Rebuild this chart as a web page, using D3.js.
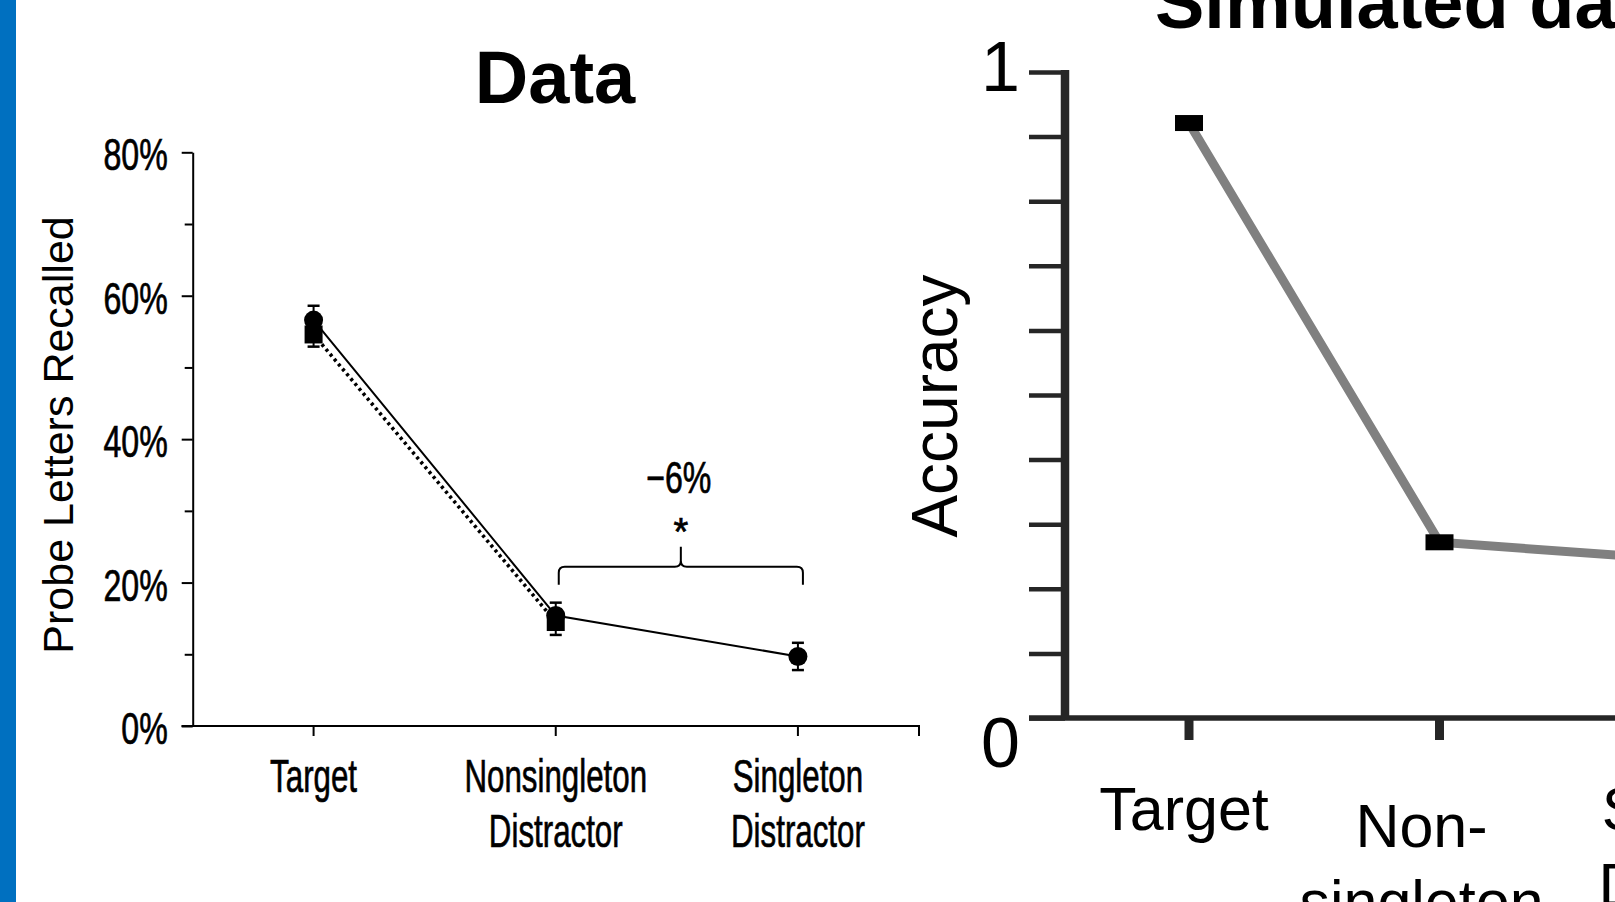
<!DOCTYPE html>
<html>
<head>
<meta charset="utf-8">
<script src="https://cdn.jsdelivr.net/npm/d3@7"></script>
<style>
body{margin:0;background:#fff;}
svg{display:block;}
</style>
</head>
<body>
<svg></svg>
<script>
// ---- data ----
var categories=["Target","Nonsingleton Distractor","Singleton Distractor"]
var catLines=[["Target"],["Nonsingleton","Distractor"],["Singleton","Distractor"]]
var circleMeans=[56.6,15.4,9.7]     // solid line, circles
var circleErr=[2.0,1.8,1.9]
var squareMeans=[54.6,14.5]         // dotted line, squares
var squareErr=[1.7,1.8]
var majorTicks=[0,20,40,60,80]
var minorTicks=[10,30,50,70]
var bracketPct=22.2
var diffLabel="\u22126%"

var simCategories=["Target","Nonsingleton","Singleton"]
var simLines=[["Target"],["Non-","singleton","Distractor"],["Singleton","Distractor"]]
var simValues=[0.921,0.272,0.244]
var simTicks=[0,0.1,0.2,0.3,0.4,0.5,0.6,0.7,0.8,0.9,1]
var simTickLabels=[{v:1,t:"1"},{v:0,t:"0"}]

var width=1615
var height=902
var arial="'Liberation Sans',Arial,Helvetica,sans-serif"

var svg=d3.select("svg")
    .attr("width",width)
    .attr("height",height)

// blue side strip
svg.append("rect")
    .attr("x",0).attr("y",0)
    .attr("width",16).attr("height",height)
    .attr("fill","#0070C0")

// condensed look: arial squeezed sideways, a hair of stroke for weight
var condensed=function(sel,size){
    sel.style("font-family",arial)
        .style("font-size",size+"px")
        .attr("fill","#000")
        .attr("stroke","#000")
        .attr("stroke-width",0.7)
}

// =============== left panel: Data ===============
var drawData=function(){
    var x=d3.scaleBand()
        .domain(categories)
        .range([192.5,919])
    var xc=function(c){return x(c)+x.bandwidth()/2}
    var y=d3.scaleLinear()
        .domain([0,80])
        .range([726,152.3])
    var g=svg.append("g")

    // title
    g.append("text")
        .attr("x",555).attr("y",103)
        .attr("text-anchor","middle")
        .style("font-family",arial)
        .style("font-weight","bold")
        .style("font-size","74px")
        .text("Data")

    // y axis, major ticks
    var yAxis=d3.axisLeft(y)
        .tickValues(majorTicks)
        .tickSize(11)
        .tickSizeOuter(0)
        .tickFormat(function(d){return d+"%"})
    var ya=g.append("g")
        .attr("transform","translate(192.7,0)")
        .call(yAxis)
    ya.select(".domain").attr("stroke","#000").attr("stroke-width",2)
    ya.selectAll(".tick line").attr("stroke","#000").attr("stroke-width",2)
    ya.selectAll(".tick text")
        .attr("x",0).attr("dy","0.4em")
        .attr("transform","translate(-25,0) scale(0.73,1)")
        .call(condensed,44)
    // minor ticks
    var ym=g.append("g")
        .attr("transform","translate(192.7,0)")
        .call(d3.axisLeft(y).tickValues(minorTicks).tickSize(8).tickFormat(""))
    ym.select(".domain").remove()
    ym.selectAll(".tick line").attr("stroke","#000").attr("stroke-width",2)

    // x axis
    var xr=x.range()
    g.append("path")
        .attr("d","M"+(xr[0]-11)+","+y(0)+"H"+xr[1]+"V"+(y(0)+10))
        .attr("fill","none").attr("stroke","#000").attr("stroke-width",2)
    g.selectAll(".xtick")
        .data(categories)
        .enter()
        .append("line")
        .attr("class","xtick")
        .attr("x1",xc).attr("x2",xc)
        .attr("y1",y(0)).attr("y2",y(0)+10)
        .attr("stroke","#000").attr("stroke-width",2)

    // x labels
    var xl=g.selectAll(".xlab")
        .data(categories)
        .enter()
        .append("g")
        .attr("class","xlab")
        .attr("transform",function(c){return "translate("+xc(c)+","+(y(0)+66)+") scale(0.68,1)"})
    xl.selectAll("text")
        .data(function(c,i){return catLines[i]})
        .enter()
        .append("text")
        .attr("y",function(d,i){return i*55})
        .attr("text-anchor","middle")
        .call(condensed,46)
        .text(function(d){return d})

    // y label
    g.append("text")
        .attr("transform","translate(73,435) rotate(-90)")
        .attr("text-anchor","middle")
        .style("font-family",arial)
        .style("font-size","43px")
        .text("Probe Letters Recalled")

    // lines
    var circlePts=circleMeans.map(function(v,i){return [xc(categories[i]),y(v)]})
    var squarePts=squareMeans.map(function(v,i){return [xc(categories[i]),y(v)]})
    g.append("path")
        .attr("d",d3.line()(squarePts))
        .attr("fill","none").attr("stroke","#000")
        .attr("stroke-width",3.6)
        .attr("stroke-dasharray","3,3.4")
    g.append("path")
        .attr("d",d3.line()(circlePts))
        .attr("fill","none").attr("stroke","#000")
        .attr("stroke-width",2)

    // error bars
    var errData=[]
    circleMeans.forEach(function(v,i){errData.push({c:categories[i],m:v,e:circleErr[i]})})
    squareMeans.forEach(function(v,i){errData.push({c:categories[i],m:v,e:squareErr[i]})})
    var eb=g.selectAll(".err")
        .data(errData)
        .enter()
        .append("g")
        .attr("class","err")
    eb.append("line")
        .attr("x1",function(d){return xc(d.c)}).attr("x2",function(d){return xc(d.c)})
        .attr("y1",function(d){return y(d.m-d.e)}).attr("y2",function(d){return y(d.m+d.e)})
        .attr("stroke","#000").attr("stroke-width",2)
    eb.append("line")
        .attr("x1",function(d){return xc(d.c)-6}).attr("x2",function(d){return xc(d.c)+6})
        .attr("y1",function(d){return y(d.m+d.e)}).attr("y2",function(d){return y(d.m+d.e)})
        .attr("stroke","#000").attr("stroke-width",2.5)
    eb.append("line")
        .attr("x1",function(d){return xc(d.c)-6}).attr("x2",function(d){return xc(d.c)+6})
        .attr("y1",function(d){return y(d.m-d.e)}).attr("y2",function(d){return y(d.m-d.e)})
        .attr("stroke","#000").attr("stroke-width",2.5)

    // markers
    g.selectAll(".sq")
        .data(squarePts)
        .enter()
        .append("rect")
        .attr("class","sq")
        .attr("x",function(d){return d[0]-9}).attr("y",function(d){return d[1]-9})
        .attr("width",18).attr("height",18)
        .attr("fill","#000")
    g.selectAll(".dot")
        .data(circlePts)
        .enter()
        .append("circle")
        .attr("class","dot")
        .attr("cx",function(d){return d[0]}).attr("cy",function(d){return d[1]})
        .attr("r",9.5)
        .attr("fill","#000")

    // bracket
    var L=xc(categories[1])+3, R=xc(categories[2])+5, C=(L+R)/2
    var yh=y(bracketPct), yb=yh+18, yt=yh-20, r=6
    var p=d3.path()
    p.moveTo(L,yb); p.lineTo(L,yh+r); p.quadraticCurveTo(L,yh,L+r,yh)
    p.lineTo(C-r,yh); p.quadraticCurveTo(C,yh,C,yh-r); p.lineTo(C,yt)
    p.moveTo(R,yb); p.lineTo(R,yh+r); p.quadraticCurveTo(R,yh,R-r,yh)
    p.lineTo(C+r,yh); p.quadraticCurveTo(C,yh,C,yh-r)
    g.append("path")
        .attr("d",p.toString())
        .attr("fill","none").attr("stroke","#000").attr("stroke-width",2)
    g.append("text")
        .attr("transform","translate("+(C-2)+","+(yh-74)+") scale(0.73,1)")
        .attr("text-anchor","middle")
        .call(condensed,44)
        .text(diffLabel)
    g.append("text")
        .attr("transform","translate("+C+","+(yh-22)+")")
        .attr("text-anchor","middle")
        .call(condensed,38)
        .text("*")
}

// =============== right panel: Simulated data ===============
var drawSim=function(){
    var x=d3.scalePoint()
        .domain(simCategories)
        .range([1189,1690])
    var y=d3.scaleLinear()
        .domain([0,1])
        .range([718,72])
    var axisColor="#262626"
    var g=svg.append("g")

    g.append("text")
        .attr("x",1155).attr("y",28)
        .style("font-family",arial)
        .style("font-weight","bold")
        .style("font-size","74px")
        .text("Simulated data")

    // y ticks
    var ya=g.append("g")
        .attr("transform","translate(1065,0)")
        .call(d3.axisLeft(y).tickValues(simTicks).tickSize(36).tickFormat(""))
    ya.select(".domain").remove()
    ya.selectAll(".tick line").attr("stroke",axisColor).attr("stroke-width",4.5)

    // axes lines
    g.append("line")
        .attr("x1",1029).attr("x2",width+20)
        .attr("y1",y(0)).attr("y2",y(0))
        .attr("stroke",axisColor).attr("stroke-width",5.5)
    g.append("line")
        .attr("x1",1065).attr("x2",1065)
        .attr("y1",y(1)-2).attr("y2",y(0))
        .attr("stroke",axisColor).attr("stroke-width",8.5)

    // x ticks
    g.selectAll(".stick")
        .data(simCategories)
        .enter()
        .append("line")
        .attr("class","stick")
        .attr("x1",x).attr("x2",x)
        .attr("y1",y(0)).attr("y2",y(0)+22)
        .attr("stroke",axisColor).attr("stroke-width",9)

    // y tick labels
    g.selectAll(".slab")
        .data(simTickLabels)
        .enter()
        .append("text")
        .attr("class","slab")
        .attr("x",1020)
        .attr("y",function(d){return d.v==1 ? y(d.v)+19 : y(d.v)+49})
        .attr("text-anchor","end")
        .style("font-family",arial)
        .style("font-size","70px")
        .text(function(d){return d.t})

    // y label
    g.append("text")
        .attr("transform","translate(957,406) rotate(-90)")
        .attr("text-anchor","middle")
        .style("font-family",arial)
        .style("font-size","64px")
        .text("Accuracy")

    // x labels
    var labelDx=[-5,-18,39], labelDy=[0,17,0]
    var xl=g.selectAll(".sxlab")
        .data(simCategories)
        .enter()
        .append("text")
        .attr("class","sxlab")
        .attr("text-anchor","middle")
        .style("font-family",arial)
        .style("font-size","61px")
    xl.selectAll("tspan")
        .data(function(c,i){return simLines[i].map(function(t){return {t:t,i:i}})})
        .enter()
        .append("tspan")
        .attr("x",function(d){return x(simCategories[d.i])+labelDx[d.i]})
        .attr("y",function(d,j){return 830+labelDy[d.i]+j*76})
        .text(function(d){return d.t})

    // line + markers
    var pts=simValues.map(function(v,i){return [x(simCategories[i]),y(v)]})
    g.append("path")
        .attr("d",d3.line()(pts))
        .attr("fill","none").attr("stroke","#808080")
        .attr("stroke-width",9)
    g.selectAll(".smark")
        .data(pts)
        .enter()
        .append("rect")
        .attr("class","smark")
        .attr("x",function(d){return d[0]-14}).attr("y",function(d){return d[1]-8})
        .attr("width",28).attr("height",16)
        .attr("fill","#000")
}

drawData()
drawSim()
</script>
</body>
</html>
